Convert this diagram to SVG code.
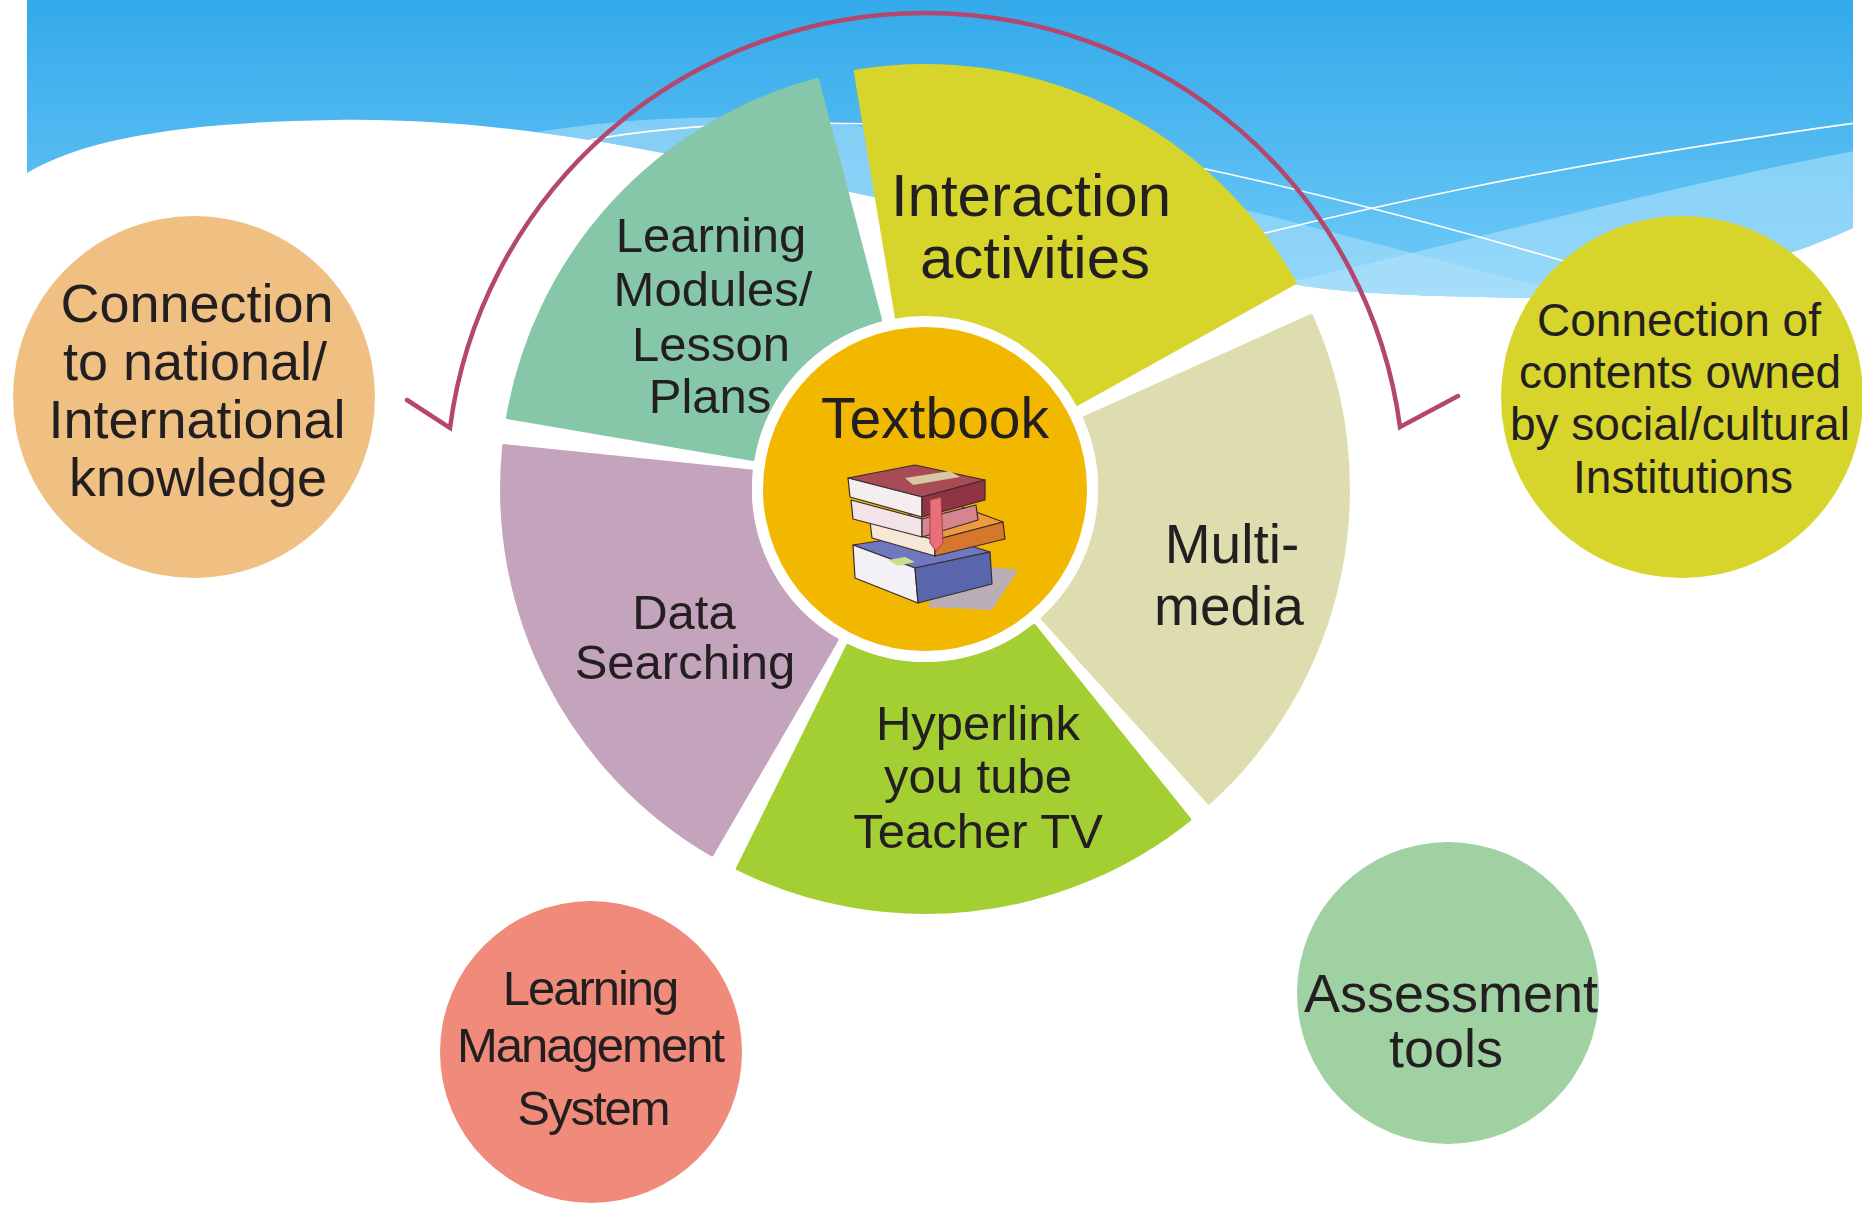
<svg xmlns="http://www.w3.org/2000/svg" width="1862" height="1208" viewBox="0 0 1862 1208">
  <style>
    .lbl { font-family: "Liberation Sans", Arial, sans-serif; fill: #231F20; text-anchor: middle; }
    .ln { fill: none; stroke: #FFFFFF; stroke-width: 1.6; }
    .bk { stroke: #3A2A30; stroke-width: 1.2; stroke-linejoin: round; }
    .seg { stroke-width: 3; stroke-linejoin: round; }
    .conn { fill: none; stroke: #B4476E; stroke-width: 4.5; stroke-linecap: round; stroke-linejoin: miter; }
  </style>
  <defs>
    <linearGradient id="skyGrad" gradientUnits="userSpaceOnUse" x1="0" y1="0" x2="0" y2="300">
      <stop offset="0" stop-color="#34AAEA"/>
      <stop offset="0.45" stop-color="#4FB8F0"/>
      <stop offset="1" stop-color="#72CCF8"/>
    </linearGradient>
    <clipPath id="skyClip">
      <path id="skyShape" d="M27,0 H1853 V228 C1780,262 1650,300 1528,298 C1400,296 1330,292 1289,283 C1100,250 900,200 663,153 C560,133 450,118 334,120 C200,122 90,135 27,173 Z"/>
    </clipPath>
  </defs>

  <!-- background -->
  <rect x="0" y="0" width="1862" height="1208" fill="#FFFFFF"/>
  <use href="#skyShape" fill="url(#skyGrad)"/>
  <g clip-path="url(#skyClip)">
    <path d="M520,135 C650,112 800,110 950,140 C1150,180 1350,240 1600,300 L1600,330 L500,330 Z" fill="#A9DEFA" opacity="0.6"/>
    <path d="M1150,312 C1400,262 1600,200 1860,150 L1860,330 Z" fill="#B4E3FB" opacity="0.55"/>
    <path class="ln" d="M590,140 C700,120 900,112 1100,148 C1250,175 1450,225 1660,290"/>
    <path class="ln" d="M1150,262 C1350,210 1550,165 1856,123"/>
  </g>

  <!-- connector: arc around the wheel -->
  <g id="connectors">
    <path class="conn" d="M407,400 L450,428 A479,476 0 0 1 1400,427 L1458,396"/>
  </g>

  <!-- wheel segments -->
  <g id="node-interaction">
    <path class="seg" d="M1295.1,283.0 A423.5,423.5 0 0 0 855.2,71.3 L896.8,319.9 A174.5,174.5 0 0 1 1074.9,405.6 Z" fill="#D7D42B" stroke="#D7D42B"/>
    <text class="lbl" font-size="60" x="1031" y="216">Interaction</text>
    <text class="lbl" font-size="60" x="1035" y="278">activities</text>
  </g>
  <g id="node-learning-modules">
    <path class="seg" d="M817.5,79.4 A423.5,423.5 0 0 0 507.5,417.6 L753.0,459.5 A174.5,174.5 0 0 1 880.7,320.2 Z" fill="#87C7A9" stroke="#87C7A9"/>
    <text class="lbl" font-size="49" x="711" y="252">Learning</text>
    <text class="lbl" font-size="49" x="713" y="306">Modules/</text>
    <text class="lbl" font-size="49" x="711" y="361">Lesson</text>
    <text class="lbl" font-size="49" x="710" y="413">Plans</text>
  </g>
  <g id="node-data-searching">
    <path class="seg" d="M503.8,445.5 A423.5,423.5 0 0 0 712.0,855.0 L837.2,639.8 A174.5,174.5 0 0 1 751.4,471.1 Z" fill="#C4A4BC" stroke="#C4A4BC"/>
    <text class="lbl" font-size="49" x="684" y="629">Data</text>
    <text class="lbl" font-size="49" x="685" y="679">Searching</text>
  </g>
  <g id="node-hyperlink">
    <path class="seg" d="M737.3,868.7 A423.5,423.5 0 0 0 1189.8,819.5 L1034.1,625.2 A174.5,174.5 0 0 1 847.7,645.4 Z" fill="#A3CF33" stroke="#A3CF33"/>
    <text class="lbl" font-size="49" x="978" y="740">Hyperlink</text>
    <text class="lbl" font-size="49" x="978" y="793">you tube</text>
    <text class="lbl" font-size="49" x="978" y="848">Teacher TV</text>
  </g>
  <g id="node-multimedia">
    <path class="seg" d="M1208.9,803.2 A423.5,423.5 0 0 0 1311.3,315.4 L1084.2,417.5 A174.5,174.5 0 0 1 1042.0,618.5 Z" fill="#DEDDB0" stroke="#DEDDB0"/>
    <text class="lbl" font-size="55" x="1232" y="563">Multi-</text>
    <text class="lbl" font-size="55" x="1229" y="625">media</text>
  </g>

  <!-- hub -->
  <g id="node-textbook">
    <circle cx="925" cy="489" r="173" fill="#FFFFFF"/>
    <circle cx="925" cy="489" r="162" fill="#F2B800"/>
    <text class="lbl" font-size="57" x="935" y="438">Textbook</text>
    <g id="books">
      <polygon points="948,562 1018,570 992,610 928,607" fill="#B9AEB6"/>
      <!-- bottom blue book -->
      <polygon class="bk" points="853,545 930,533 990,552 915,568" fill="#6D78BF"/>
      <polygon class="bk" points="853,545 915,568 918,603 855,578" fill="#F3F1F6"/>
      <polygon class="bk" points="915,568 990,552 992,584 918,603" fill="#5A66AB"/>
      <polygon points="888,560 905,557 915,562 898,566" fill="#C8E08A"/>
      <!-- orange book -->
      <polygon class="bk" points="870,522 960,506 1003,522 935,540" fill="#EE9A3E"/>
      <polygon class="bk" points="870,522 935,540 935,556 872,538" fill="#F6E8D6"/>
      <polygon class="bk" points="935,540 1003,522 1005,539 935,556" fill="#D6782B"/>
      <!-- pink book -->
      <polygon class="bk" points="851,500 922,519 922,537 853,519" fill="#F2E3E8"/>
      <polygon class="bk" points="922,519 976,505 978,520 922,537" fill="#D6858F"/>
      <!-- top maroon book -->
      <polygon class="bk" points="848,478 915,465 985,480 922,497" fill="#A84B55"/>
      <polygon points="905,478 950,471 960,477 913,485" fill="#D8C7A0"/>
      <polygon class="bk" points="848,478 922,497 922,517 850,497" fill="#F5EEEE"/>
      <polygon class="bk" points="922,497 985,480 985,500 922,517" fill="#8E3442"/>
      <!-- bookmark ribbon -->
      <polygon points="930,500 941,497 943,543 936,551 930,543" fill="#E8707A" stroke="#A83A48" stroke-width="1"/>
    </g>
  </g>

  <!-- outer circles -->
  <g id="node-national">
    <circle cx="194" cy="397" r="181" fill="#F0C083"/>
    <text class="lbl" font-size="54" x="197" y="322">Connection</text>
    <text class="lbl" font-size="54" x="195" y="380">to national/</text>
    <text class="lbl" font-size="54" x="197" y="438">International</text>
    <text class="lbl" font-size="54" x="198" y="496">knowledge</text>
  </g>
  <g id="node-cultural">
    <circle cx="1682" cy="397" r="181" fill="#D7D42B"/>
    <text class="lbl" font-size="46" x="1679" y="336">Connection of</text>
    <text class="lbl" font-size="46" x="1680" y="388">contents owned</text>
    <text class="lbl" font-size="46" x="1680" y="440">by social/cultural</text>
    <text class="lbl" font-size="46" x="1683" y="493">Institutions</text>
  </g>
  <g id="node-lms">
    <circle cx="591" cy="1052" r="151" fill="#F08B7B"/>
    <text class="lbl" font-size="49" letter-spacing="-2" x="590" y="1005">Learning</text>
    <text class="lbl" font-size="49" letter-spacing="-2" x="590" y="1062">Management</text>
    <text class="lbl" font-size="49" letter-spacing="-2" x="593" y="1125">System</text>
  </g>
  <g id="node-assessment">
    <circle cx="1448" cy="993" r="151" fill="#9FD1A3"/>
    <text class="lbl" font-size="54" x="1451" y="1012">Assessment</text>
    <text class="lbl" font-size="54" x="1446" y="1067">tools</text>
  </g>
</svg>
